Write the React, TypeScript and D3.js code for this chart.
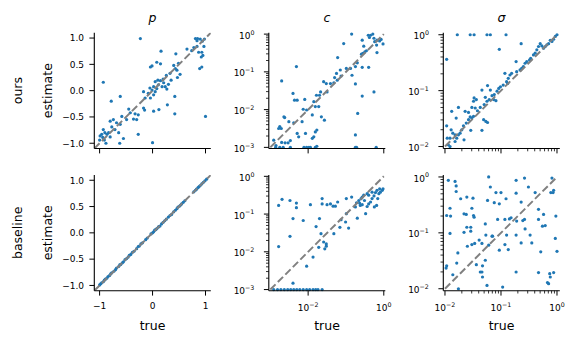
import React from "react";
import * as d3 from "d3";

// ---------------- data ----------------
const COL_TITLES = ["p", "c", "σ"];
const ROW_LABELS = ["ours", "baseline"];
const P_XTICKS = [-1, 0, 1];
const P_YTICKS = [-1, -0.5, 0, 0.5, 1];
const P_YTICK_LABELS = ["−1.0", "−0.5", "0.0", "0.5", "1.0"];
const P_XTICK_LABELS = ["−1", "0", "1"];

// p: [true, estimate]
const P_OURS: [number, number][] = [
  [-0.23, 0.99], [-0.93, 0.16], [-0.78, -0.2], [-0.61, -0.11], [0.0, -0.99],
  [0.81, 0.99], [0.85, 0.99], [0.84, 0.95], [0.9, 0.98], [0.94, 0.94], [0.98, 0.98],
  [0.65, 0.79], [0.74, 0.76], [0.78, 0.82], [0.84, 0.84], [0.87, 0.73], [0.93, 0.73], [0.97, 0.84],
  [0.92, 0.64], [0.95, 0.67], [0.89, 0.42], [0.93, 0.45], [1.0, -0.49], [0.16, 0.75], [0.44, 0.7],
  [0.08, 0.54], [0.15, 0.51], [-0.04, 0.45], [-0.01, 0.47], [0.33, 0.33], [0.43, 0.42], [0.49, 0.52],
  [0.4, 0.48], [0.46, 0.39], [0.52, 0.31], [0.47, 0.25], [0.26, 0.29], [0.05, 0.17], [0.15, 0.19],
  [0.21, 0.15], [0.11, 0.11], [0.02, 0.075], [0.08, 0.04], [-0.01, 0.01], [0.18, 0.075], [0.24, 0.075],
  [0.27, 0.03], [-0.08, -0.05], [-0.04, -0.14], [-0.17, -0.02], [-0.14, -0.14], [0.02, -0.08],
  [0.42, -0.11], [0.28, -0.27], [0.12, -0.36], [0.02, -0.39], [0.42, -0.44], [-0.17, -0.33], [-0.15, -0.37],
  [-0.3, -0.55], [-0.36, -0.54], [-0.27, -0.46], [-0.33, -0.44], [-0.45, -0.35], [-0.42, -0.42],
  [-0.49, -0.55], [-0.58, -0.49], [-0.61, -0.64], [-0.68, -0.61], [-0.74, -0.55], [-0.8, -0.58],
  [-0.77, -0.69], [-0.71, -0.74], [-0.64, -0.8], [-0.55, -0.91], [-0.62, -1.0], [-0.27, -0.83], [-0.88, -1.0],
  [-0.99, -0.86], [-0.96, -0.83], [-0.93, -0.74], [-0.9, -0.8], [-0.86, -0.83], [-0.94, -0.89],
  [-0.83, -0.8], [-0.8, -0.88], [-1.0, -0.94], [-0.91, -0.94], [0.1, 0.2], [0.2, 0.22], [0.3, 0.12],
  [0.35, 0.2], [0.05, -0.02], [-0.05, 0.05],
];

const P_BASE: [number, number][] = [
  [-1.0, -0.99], [-0.98, -0.97], [-0.96, -0.95], [-0.93, -0.93], [-0.91, -0.9], [-0.89, -0.88],
  [-0.86, -0.86], [-0.84, -0.83], [-0.81, -0.81], [-0.79, -0.78], [-0.77, -0.76], [-0.73, -0.73],
  [-0.7, -0.7], [-0.68, -0.67], [-0.64, -0.64], [-0.62, -0.61], [-0.6, -0.6], [-0.55, -0.55],
  [-0.52, -0.51], [-0.49, -0.49], [-0.46, -0.46], [-0.41, -0.41], [-0.38, -0.37], [-0.35, -0.35],
  [-0.3, -0.3], [-0.27, -0.26], [-0.25, -0.25], [-0.22, -0.21], [-0.19, -0.19], [-0.13, -0.13],
  [-0.1, -0.1], [-0.03, -0.02], [0.0, 0.0], [0.02, 0.02], [0.04, 0.05], [0.06, 0.06],
  [0.08, 0.08], [0.11, 0.11], [0.14, 0.13], [0.17, 0.17], [0.2, 0.2], [0.23, 0.23], [0.26, 0.26],
  [0.3, 0.3], [0.33, 0.33], [0.36, 0.35], [0.4, 0.4], [0.43, 0.43], [0.46, 0.46], [0.48, 0.49],
  [0.51, 0.51], [0.55, 0.55], [0.58, 0.58], [0.61, 0.61], [0.78, 0.78], [0.81, 0.81],
  [0.83, 0.83], [0.86, 0.86], [0.9, 0.9], [0.93, 0.93], [0.96, 0.96], [0.99, 0.99], [1.02, 1.02],
  [-0.57, -0.57], [-0.44, -0.43], [0.12, 0.12], [0.53, 0.53], [0.88, 0.88],
];

// c and sigma given as log10 values: [log10 true, log10 estimate]
const C_OURS_LOG10: [number, number][] = [
  [-0.85, 0.0], [-1.06, -0.25], [-1.22, -0.62], [-2.31, -0.86], [-2.7, -1.24],
  [-0.41, -0.03], [-0.35, -0.03], [-0.29, 0], [-0.38, -0.09], [-0.26, -0.11], [-0.18, -0.16],
  [-0.11, -0.18], [-0.07, -0.14], [-0.02, -0.26], [-0.24, -0.2], [-0.19, -0.29], [-0.18, -0.49],
  [-0.57, -0.16], [-0.53, -0.32], [-0.5, -0.47], [-0.55, -0.51], [-0.46, -0.44], [-0.59, -0.53],
  [-0.7, -0.76], [-0.75, -0.86], [-0.88, -0.91], [-0.99, -0.91], [-0.57, -0.88], [-0.4, -0.88],
  [-1.25, -1.04], [-1.13, -1.11], [-1.3, -1.15], [-1.32, -1.29], [-1.41, -1.31], [-1.59, -1.26],
  [-1.52, -1.31], [-1.5, -1.53], [-1.67, -1.53], [-1.7, -1.62], [-1.78, -1.62], [-1.85, -1.79],
  [-2.09, -1.73], [-2.4, -1.57], [-2.36, -1.75], [-2.29, -1.75], [-2.13, -1.99], [-2.04, -2.01],
  [-1.81, -1.92], [-1.72, -1.92], [-1.57, -2.28], [-1.65, -2.19], [-1.89, -2.14], [-2.38, -2.35],
  [-2.51, -2.32], [-2.64, -2.19], [-2.62, -2.21], [-2.75, -2.45], [-2.71, -2.5], [-2.78, -2.5],
  [-2.16, -2.32], [-2.07, -2.63], [-2.29, -2.63], [-2.25, -2.72], [-1.81, -2.59], [-1.77, -2.54],
  [-1.85, -2.72], [-1.89, -2.76], [-2.91, -2.81], [-2.7, -2.87], [-2.61, -2.88], [-2.53, -2.88],
  [-2.47, -2.82], [-2.75, -3.0], [-2.47, -3.0], [-2.11, -3.0], [-2.04, -3.0], [-1.98, -3.0],
  [-1.94, -3.0], [-1.81, -3.0], [-1.77, -2.97], [-0.75, -3.0], [-0.72, -3.0], [-0.2, -3.0],
  [-0.75, -2.67], [-0.69, -2.1], [-0.57, -1.64], [-0.26, -1.53], [-0.75, -1.32], [-0.84, -1.09],
  [-1.23, -1.22], [-1.15, -0.95], [-2.86, -3.0], [-2.66, -3.0], [-2.85, -2.95],
];

const C_BASE_LOG10: [number, number][] = [
  [-2.69, -0.61], [-2.78, -0.77], [-2.78, -1.86], [-2.48, -0.64], [-2.31, -0.71], [-2.31, -0.83],
  [-2.4, -1.12], [-2.48, -1.59], [-2.13, -1.17], [-1.94, -0.75], [-2.04, -2.38], [-1.87, -2.14],
  [-1.79, -1.33], [-1.7, -1.12], [-1.72, -1.88], [-1.66, -1.52], [-1.63, -0.59], [-1.63, -0.73],
  [-1.59, -1.74], [-1.56, -1.92], [-1.52, -1.79], [-1.52, -1.85], [-1.5, -0.75], [-1.41, -0.73],
  [-1.34, -0.79], [-1.28, -0.79], [-1.22, -0.68], [-1.32, -1.52], [-1.16, -1.35], [-1.13, -1.15],
  [-1.01, -1.21], [-0.93, -1.37], [-0.99, -0.59], [-0.85, -0.55], [-0.99, -0.99], [-0.75, -0.81],
  [-0.7, -1.11], [-0.72, -0.7], [-0.66, -0.64], [-0.6, -0.59], [-0.57, -0.55], [-0.53, -0.5],
  [-0.62, -0.77], [-0.57, -0.75], [-0.48, -0.99], [-0.44, -0.8], [-0.4, -0.73], [-0.35, -0.68],
  [-0.31, -0.59], [-0.26, -0.52], [-0.25, -0.81], [-0.19, -0.77], [-0.16, -0.59], [-0.13, -0.46],
  [-0.09, -0.42], [-0.04, -0.37], [-0.02, -0.33], [-0.11, -0.33], [-0.18, -0.37], [-0.22, -0.43],
  [-0.31, -0.42], [-0.4, -0.5], [-0.44, -0.46], [-0.51, -0.64], [-0.64, -0.71], [-2.4, -2.83],
  [-2.91, -3], [-2.81, -3], [-2.72, -3], [-2.63, -3], [-2.54, -3], [-2.46, -3], [-2.38, -3],
  [-2.3, -3], [-2.22, -3], [-2.13, -3], [-2.04, -3], [-1.96, -3], [-1.87, -3], [-1.8, -3],
  [-1.74, -3], [-1.63, -3],
];

const S_OURS_LOG10: [number, number][] = [
  [-1.78, 0], [-1.55, 0], [-1.48, 0], [-1.25, 0], [-1.19, 0], [-0.91, 0], [-1.97, -0.44],
  [-1.03, -0.26], [-0.64, -0.16], [0, 0], [-0.03, -0.03], [-0.06, -0.08], [-0.09, -0.12],
  [-0.12, -0.1], [-0.15, -0.16], [-0.18, -0.18], [-0.21, -0.21], [-0.24, -0.24], [-0.27, -0.2],
  [-0.3, -0.16], [-0.33, -0.21], [-0.36, -0.27], [-0.39, -0.33], [-0.42, -0.36], [-0.47, -0.42],
  [-0.49, -0.45], [-0.54, -0.48], [-0.57, -0.51], [-0.6, -0.57], [-0.63, -0.6], [-0.66, -0.63],
  [-0.72, -0.66], [-0.73, -0.48], [-0.81, -0.69], [-0.84, -0.72], [-0.87, -0.78], [-0.9, -0.84],
  [-0.93, -0.69], [-0.88, -0.87], [-0.96, -0.9], [-1.01, -0.93], [-1.04, -0.96], [-1.07, -1.01],
  [-1.12, -1.07], [-1.16, -1.09], [-1.21, -1.16], [-1.25, -1.19], [-1.28, -1.12], [-1.34, -0.99],
  [-1.24, -0.91], [-1.19, -0.99], [-1.3, -1.25], [-1.37, -1.3], [-1.42, -1.36], [-1.49, -1.46],
  [-1.52, -1.49], [-1.55, -1.47], [-1.46, -1.31], [-1.49, -1.19], [-1.44, -1.16], [-1.48, -1.13],
  [-1.52, -1.3], [-1.58, -1.39], [-1.64, -1.37], [-1.62, -1.58], [-1.67, -1.63], [-1.7, -1.7],
  [-1.73, -1.76], [-1.76, -1.79], [-1.79, -1.85], [-1.82, -1.79], [-1.86, -1.76], [-1.89, -1.7],
  [-1.88, -1.37], [-1.76, -1.3], [-1.8, -1.49], [-1.91, -1.85], [-1.96, -1.85], [-1.97, -1.63],
  [-1.94, -1.97], [-1.91, -2.0], [-1.54, -1.71], [-1.34, -1.71], [-1.27, -1.55], [-1.31, -1.52],
  [-1.24, -1.57], [-1.13, -1.16], [-1.09, -1.18], [-1.66, -1.88], [-1.82, -1.91], [-1.58, -1.52],
];

const S_BASE_LOG10: [number, number][] = [
  [-1.94, -0.06], [-1.82, -0.08], [-1.8, -0.16], [-1.8, -0.26], [-1.91, -0.56], [-1.97, -0.69],
  [-1.9, -0.7], [-1.91, -1.01], [-1.72, -0.39], [-1.61, -0.36], [-1.5, -0.38], [-1.52, -0.56],
  [-1.49, -0.69], [-1.48, -0.72], [-1.66, -0.66], [-1.62, -0.67], [-1.61, -0.9], [-1.54, -0.9],
  [-1.54, -0.97], [-1.66, -0.99], [-1.6, -1.24], [-1.52, -1.21], [-1.47, -1.19], [-1.39, -1.13],
  [-1.34, -1.19], [-1.44, -1.57], [-1.37, -1.7], [-1.34, -1.7], [-1.33, -1.79], [-1.33, -1.59],
  [-1.28, -1.49], [-1.25, -1.94], [-1.97, -1.59], [-1.98, -1.63], [-1.79, -1.54], [-1.77, -1.36],
  [-1.86, -1.75], [-1.76, -2.0], [-1.28, -0.84], [-1.24, -0.42], [-1.22, 0.0], [-1.19, -0.18],
  [-1.27, -1.04], [-1.22, -1.22], [-1.16, -1.06], [-1.12, -0.46], [-1.09, -0.28], [-1.03, -0.48],
  [-1.0, -0.28], [-1.06, -0.76], [-1.15, -1.06], [-1.03, -1.31], [-0.97, -1.97], [-0.93, -0.76],
  [-0.91, -0.39], [-0.93, -1.21], [-0.9, -1.04], [-0.87, -1.3], [-0.85, -0.75], [-0.82, -0.73],
  [-0.73, -0.06], [-0.73, -0.29], [-0.72, -0.79], [-0.73, -1.04], [-0.73, -1.7], [-0.64, -0.45],
  [-0.64, -1.18], [-0.61, -0.78], [-0.58, -0.76], [-0.58, -0.02], [-0.57, -0.93], [-0.51, -0.18],
  [-0.48, -1.04], [-0.45, -1.18], [-0.39, -0.28], [-0.33, -0.58], [-0.33, -0.76], [-0.33, -1.71],
  [-0.29, -1.34], [-0.24, -0.67], [-0.26, -0.88], [-0.21, -0.87], [-0.17, -1.89], [-0.15, -1.91],
  [-0.13, -1.73], [-0.11, -0.28], [-0.09, -0.02], [-0.07, -0.28], [-0.06, -0.24], [-0.06, -1.71],
  [-0.03, -1.1], [-0.02, -0.7], [0.0, -1.33], [-0.12, -1.79],
];

// ---------------- layout / style ----------------
const W = 581;
const H = 349;
const PX0 = [94.3, 268.8, 443.3];
const PW = 116.5;
const PY0 = [32.8, 175];
const PH = 115.7;
const FONT = "DejaVu Sans, sans-serif";
const TICK_FS = 9;
const LABEL_FS = 12.5;
const DOT = "#1f77b4";

type Kind = "p" | "c" | "s";

const toVals = (arr: [number, number][]) => arr.map(([a, b]) => [10 ** a, 10 ** b] as [number, number]);

const DATA: Record<string, [number, number][]>[] = [
  { p: P_OURS, c: toVals(C_OURS_LOG10), s: toVals(S_OURS_LOG10) },
  { p: P_BASE, c: toVals(C_BASE_LOG10), s: toVals(S_BASE_LOG10) },
];

function LogLabel({ x, y, exp, anchor }: { x: number; y: number; exp: number; anchor: string }) {
  const e = exp < 0 ? "−" + Math.abs(exp) : String(exp);
  return (
    <text x={x} y={y} textAnchor={anchor} fontSize={TICK_FS} fontFamily={FONT} fill="#000">
      10
      <tspan fontSize={TICK_FS * 0.7} dy={-4.2}>{e}</tspan>
    </text>
  );
}

function Panel({ kind, row, col }: { kind: Kind; row: number; col: number }) {
  const x0 = PX0[col];
  const y0 = PY0[row];
  const x1 = x0 + PW;
  const y1 = y0 + PH;
  const data = DATA[row][kind];
  const id = `clip-${row}-${col}`;

  let xs: any, ys: any;
  let lineFrom: number, lineTo: number;
  if (kind === "p") {
    xs = d3.scaleLinear().domain([-1.1, 1.1]).range([x0, x1]);
    ys = d3.scaleLinear().domain([-1.1, 1.1]).range([y1, y0]);
    lineFrom = -1.1;
    lineTo = 1.1;
  } else if (kind === "c") {
    xs = d3.scaleLog().domain([10 ** -3.04, 10 ** 0.04]).range([x0, x1]);
    ys = d3.scaleLog().domain([10 ** -3.03, 10 ** 0.035]).range([y1, y0]);
    lineFrom = 1e-3;
    lineTo = 1;
  } else {
    xs = d3.scaleLog().domain([10 ** -2.03, 10 ** 0.05]).range([x0, x1]);
    ys = d3.scaleLog().domain([10 ** -2.035, 10 ** 0.035]).range([y1, y0]);
    lineFrom = 1e-2;
    lineTo = 1;
  }

  const majorLen = 4.9;
  const minorLen = 2.8;
  const showXLabels = row === 1;

  const ticks: React.ReactNode[] = [];
  if (kind === "p") {
    P_YTICKS.forEach((v, i) => {
      const y = ys(v);
      ticks.push(<line key={`yt${i}`} x1={x0 - majorLen} x2={x0} y1={y} y2={y} stroke="#000" strokeWidth={1} />);
      ticks.push(
        <text key={`yl${i}`} x={x0 - majorLen - 5.3} y={y + 3.3} textAnchor="end" fontSize={TICK_FS} fontFamily={FONT} fill="#000">
          {P_YTICK_LABELS[i]}
        </text>
      );
    });
    P_XTICKS.forEach((v, i) => {
      const x = xs(v);
      ticks.push(<line key={`xt${i}`} x1={x} x2={x} y1={y1} y2={y1 + majorLen} stroke="#000" strokeWidth={1} />);
      if (showXLabels)
        ticks.push(
          <text key={`xl${i}`} x={x} y={y1 + 18.3} textAnchor="middle" fontSize={TICK_FS} fontFamily={FONT} fill="#000">
            {P_XTICK_LABELS[i]}
          </text>
        );
    });
  } else {
    const yExps = kind === "c" ? [-3, -2, -1, 0] : [-2, -1, 0];
    const xExps = kind === "c" ? [-2, 0] : [-2, -1, 0];
    const ydom = ys.domain();
    const xdom = xs.domain();
    yExps.forEach((e) => {
      const y = ys(10 ** e);
      ticks.push(<line key={`ytm${e}`} x1={x0 - majorLen} x2={x0} y1={y} y2={y} stroke="#000" strokeWidth={1} />);
      ticks.push(<LogLabel key={`ylm${e}`} x={x0 - majorLen - 9.5} y={y + 4.6} exp={e} anchor="end" />);
    });
    for (let e = -4; e <= 0; e++) {
      for (let k = 2; k <= 9; k++) {
        const v = k * 10 ** e;
        if (v < ydom[0] || v > ydom[1]) continue;
        const y = ys(v);
        ticks.push(<line key={`ytn${e}${k}`} x1={x0 - minorLen} x2={x0} y1={y} y2={y} stroke="#000" strokeWidth={0.8} />);
      }
    }
    xExps.forEach((e) => {
      const x = xs(10 ** e);
      ticks.push(<line key={`xtm${e}`} x1={x} x2={x} y1={y1} y2={y1 + majorLen} stroke="#000" strokeWidth={1} />);
      if (showXLabels) ticks.push(<LogLabel key={`xlm${e}`} x={x} y={y1 + 20} exp={e} anchor="middle" />);
    });
    if (kind === "s") {
      for (let e = -3; e <= 0; e++) {
        for (let k = 2; k <= 9; k++) {
          const v = k * 10 ** e;
          if (v < xdom[0] || v > xdom[1]) continue;
          const x = xs(v);
          ticks.push(<line key={`xtn${e}${k}`} x1={x} x2={x} y1={y1} y2={y1 + minorLen} stroke="#000" strokeWidth={0.8} />);
        }
      }
    }
  }

  return (
    <g>
      <defs>
        <clipPath id={id}>
          <rect x={x0} y={y0} width={PW} height={PH} />
        </clipPath>
      </defs>
      {data.map(([a, b], i) => (
        <circle key={i} cx={xs(a)} cy={ys(b)} r={1.6} fill={DOT} />
      ))}
      <line
        x1={xs(lineFrom)}
        y1={ys(lineFrom)}
        x2={xs(lineTo)}
        y2={ys(lineTo)}
        stroke="#808080"
        strokeWidth={2}
        strokeDasharray="7.4 3.2"
        clipPath={`url(#${id})`}
      />
      <line x1={x0} x2={x0} y1={y0} y2={y1} stroke="#000" strokeWidth={1.1} />
      <line x1={x0} x2={x1} y1={y1} y2={y1} stroke="#000" strokeWidth={1.1} />
      {ticks}
      {row === 0 && (
        <text x={x0 + PW / 2} y={22} textAnchor="middle" fontSize={LABEL_FS} fontStyle="italic" fontFamily={FONT} fill="#000">
          {COL_TITLES[col]}
        </text>
      )}
      {row === 1 && (
        <text x={x0 + PW / 2} y={330} textAnchor="middle" fontSize={LABEL_FS} fontFamily={FONT} fill="#000">
          true
        </text>
      )}
      {col === 0 && (
        <text
          transform={`translate(51.7, ${y0 + PH / 2}) rotate(-90)`}
          textAnchor="middle"
          fontSize={LABEL_FS}
          fontFamily={FONT}
          fill="#000"
        >
          estimate
        </text>
      )}
      {col === 0 && (
        <text
          transform={`translate(22.3, ${y0 + PH / 2}) rotate(-90)`}
          textAnchor="middle"
          fontSize={LABEL_FS}
          fontFamily={FONT}
          fill="#000"
        >
          {ROW_LABELS[row]}
        </text>
      )}
    </g>
  );
}

export default function App() {
  const kinds: Kind[] = ["p", "c", "s"];
  return (
    <svg
      width={W}
      height={H}
      viewBox={`0 0 ${W} ${H}`}
      style={{ position: "absolute", left: 0, top: 0, background: "#fff" }}
    >
      <rect x={0} y={0} width={W} height={H} fill="#fff" />
      {[0, 1].map((r) =>
        kinds.map((k, c) => <Panel key={`${r}-${c}`} kind={k} row={r} col={c} />)
      )}
    </svg>
  );
}
